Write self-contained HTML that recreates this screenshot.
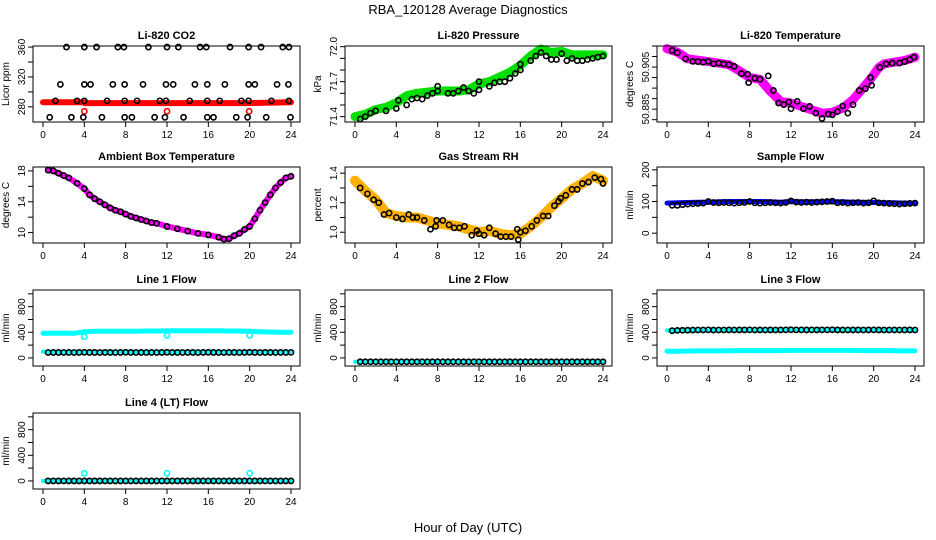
<!DOCTYPE html>
<html><head><meta charset="utf-8"><style>
html,body{margin:0;padding:0;background:#fff;}
svg{display:block;font-family:"Liberation Sans",Arial,sans-serif;}
</style></head><body>
<svg id="chart" width="936" height="540" viewBox="0 0 936 540" xmlns="http://www.w3.org/2000/svg">
<rect width="936" height="540" fill="#fff"/>
<text x="468" y="14" text-anchor="middle" font-size="13">RBA_120128  Average Diagnostics</text>
<text x="468" y="532" text-anchor="middle" font-size="13">Hour of Day (UTC)</text>
</svg>
<script>
// ---------- data ----------
const HALF = [0.5,1,1.5,2,2.5,3,3.5,4,4.5,5,5.5,6,6.5,7,7.5,8,8.5,9,9.5,10,10.5,11,11.5,12,12.5,13,13.5,14,14.5,15,15.5,16,16.5,17,17.5,18,18.5,19,19.5,20,20.5,21,21.5,22,22.5,23,23.5,24];
const HOURS = [0,1,2,3,4,5,6,7,8,9,10,11,12,13,14,15,16,17,18,19,20,21,22,23,24];
const XTICKS = [0,4,8,12,16,20,24];

// CO2
const co2Hours = [2.27,4.0,5.18,7.25,7.83,10.2,12.0,13.1,15.2,15.8,18.1,19.9,21.1,23.2,23.8,
 1.68,4.0,4.6,6.76,7.9,9.68,11.9,12.6,14.7,15.9,17.6,19.9,20.5,22.65,23.75,
 1.2,3.3,4.0,6.2,7.9,9.1,11.3,11.9,14.2,15.9,17.1,19.2,19.9,22.1,23.8,
 0.65,2.75,3.9,5.7,7.9,8.6,10.8,11.8,13.6,15.9,16.5,18.7,19.8,21.6,23.95];
const co2Values = [360,360,360,360,360,360,360,360,360,360,360,360,360,360,360,
 310,310,310,310,310,310,310,310,310,310,310,310,310,310,310,
 288,288,288,288,288,288,288,288,288,288,288,288,288,288,288,
 266,266,266,266,266,266,266,266,266,266,266,266,266,266,266];
const co2BandHours = [0,4,4.01,8,12,16,20,24];
const co2BandValues = [286,286,285,285,285,285,285,286];
const co2RedHours = [4.0,12.0,19.95];
const co2RedValues = [274,274,274];

// Pressure
const presHours = [0.5,1,1.5,2,3,4,4.2,5,5.5,6,6.5,7,7.5,8,8,9,9.5,10,10.5,11,11.5,12,12,13,13.5,14,14.5,15,15.5,16,16,17,17.5,18,18.5,19,19.5,20,20.5,21,21.5,22,22.5,23,23.5,24];
const presValues = [71.38,71.40,71.43,71.45,71.45,71.47,71.54,71.50,71.55,71.56,71.55,71.58,71.60,71.62,71.66,71.60,71.60,71.62,71.65,71.62,71.60,71.63,71.70,71.66,71.69,71.70,71.70,71.73,71.77,71.80,71.85,71.88,71.92,71.95,71.92,71.89,71.89,71.94,71.88,71.90,71.88,71.88,71.89,71.90,71.91,71.92];
const presBandHours = [0,1,2,3,4,5,6,8,10,11,12,13,14,15,16,17,18,19,20,21,22,23,24];
const presBandValues = [71.40,71.42,71.46,71.48,71.52,71.58,71.60,71.62,71.62,71.63,71.68,71.70,71.74,71.78,71.84,71.92,71.98,71.95,71.96,71.93,71.93,71.93,71.93];

// Li-820 temperature
const tempHours = [0.5,1,1.8,2.5,3,3.5,4,4.5,5,5.5,6,6.5,7.2,7.8,7.9,8.5,9,9.8,10.3,10.8,11.3,11.8,12,12.6,13.2,13.8,14.4,15,15.6,16,16.5,17,17.5,18,18.6,19.2,19.7,19.8,20.6,21.2,21.8,22.5,23,23.5,23.9];
const tempValues = [50.9129,50.9118,50.9089,50.9077,50.9076,50.9073,50.9077,50.9065,50.9069,50.9065,50.9061,50.9053,50.9019,50.9016,50.8976,50.8997,50.8992,50.9008,50.8939,50.8879,50.8871,50.8884,50.8852,50.8887,50.8852,50.8863,50.8831,50.8806,50.8826,50.8823,50.8839,50.8865,50.8831,50.8871,50.8939,50.8947,50.9000,50.8963,50.9048,50.9065,50.9069,50.9069,50.9076,50.9086,50.9097];
const tempBandHours = [0,1,2,4,6,7,8,9,10,11,12,13,14,15,16,17,18,19,19.8,20.5,21,22,23,24];
const tempBandValues = [50.9137,50.9121,50.9089,50.9076,50.9061,50.9032,50.9000,50.8992,50.8935,50.8887,50.8879,50.8863,50.8847,50.8831,50.8835,50.8855,50.8895,50.8952,50.9000,50.9048,50.9065,50.9073,50.9081,50.9097];

// Ambient box temperature
const ambHours = [0.5,1,1.5,2,2.5,3.3,4,4.5,5,5.5,6,6.5,7,7.5,8,8.5,9,9.5,10,10.5,11,12,13,14,15,16,17,17.5,18,18.5,19,19.5,20,20.5,21,21.5,22,22.5,23,23.5,24];
const ambValues = [18.1,18.0,17.7,17.4,17.1,16.4,15.7,14.9,14.4,14.0,13.6,13.2,12.9,12.7,12.4,12.1,11.9,11.7,11.5,11.3,11.2,10.8,10.5,10.2,9.9,9.7,9.4,9.15,9.2,9.6,9.9,10.4,10.8,11.8,12.9,13.9,14.9,15.8,16.5,17.1,17.3];

// Gas stream RH
const rhHours = [0.5,1.2,1.8,2.3,2.8,3.3,4,4.6,5.2,5.6,6,6.7,7.3,7.8,7.9,8.5,9.1,9.6,10.1,10.6,11.3,11.8,12,12.5,13,13.6,14.1,14.6,15.1,15.7,15.8,16,16.5,17.1,17.6,18.2,18.7,19.3,19.7,19.9,20.4,21,21.5,22,22.6,23.2,23.8,24];
const rhValues = [1.30,1.26,1.22,1.20,1.12,1.13,1.10,1.09,1.12,1.10,1.10,1.08,1.02,1.04,1.08,1.08,1.05,1.03,1.03,1.04,0.98,1.01,0.99,0.98,1.03,0.99,0.97,0.97,0.97,1.02,0.95,1.00,1.01,1.04,1.08,1.11,1.11,1.18,1.21,1.23,1.25,1.29,1.29,1.33,1.34,1.37,1.36,1.33];
const rhBandHours = [0,1,2,3,4,5,6,7,8,9,10,11,12,13,14,15,16,17,18,19,20,21,22,23,24];
const rhBandValues = [1.35,1.28,1.22,1.13,1.11,1.10,1.10,1.08,1.06,1.05,1.04,1.02,1.00,1.01,0.99,0.98,0.99,1.04,1.10,1.17,1.23,1.29,1.33,1.38,1.35];

// Sample flow
const sampleValues = [88,88,90,92,93,94,95,100,97,96,97,96,95,96,97,100,96,95,96,97,96,95,97,102,98,97,98,97,98,99,100,101,96,97,95,96,97,95,96,102,96,95,94,93,92,93,94,95];
const sampleBand = [95,96,97,98,98,99,100,100,100,100,99,98,100,99,99,99,99,99,98,98,97,96,96,95,95];

// Line 1
const line1Black = [85,86,86,85,86,85,86,88,86,86,85,86,86,85,86,88,86,85,86,85,86,85,86,88,86,86,85,86,86,85,86,88,86,86,85,86,86,85,86,88,86,85,86,86,85,86,86,87];
const line1Upper = [385,385,385,385,410,415,415,415,415,415,420,420,425,425,425,425,425,425,420,420,415,410,405,400,400];
const line1Lower = [95,95,95,95,95,95,95,95,95,95,95,95,95,95,95,95,95,95,95,95,95,95,95,95,95];
const line1CyanHours = [4,12,20];
const line1CyanValues = [330,350,350];

// Line 2
const line2Black = [-60,-60,-60,-60,-60,-60,-60,-60,-60,-60,-60,-60,-60,-60,-60,-60,-60,-60,-60,-60,-60,-60,-60,-60,-60,-60,-60,-60,-60,-60,-60,-60,-60,-60,-60,-60,-60,-60,-60,-60,-60,-60,-60,-60,-60,-60,-60,-60];
const line2Band = [-60,-60,-60,-60,-60,-60,-60,-60,-60,-60,-60,-60,-60,-60,-60,-60,-60,-60,-60,-60,-60,-60,-60,-60,-60];

// Line 3
const line3Black = [425,430,432,433,435,436,436,438,435,436,436,437,436,437,437,438,436,437,436,437,436,437,438,440,438,438,437,438,437,438,438,440,437,437,436,437,437,436,437,438,437,436,436,437,436,437,437,436];
const line3Upper = [430,430,430,432,432,432,432,432,433,435,435,435,438,438,438,438,438,438,438,436,436,436,436,435,435];
const line3Lower = [105,105,108,110,110,110,112,115,115,115,115,115,118,118,118,118,118,118,118,115,115,115,112,110,110];

// Line 4
const line4Black = [0,0,0,0,0,0,0,0,0,0,0,0,0,0,0,0,0,0,0,0,0,0,0,0,0,0,0,0,0,0,0,0,0,0,0,0,0,0,0,0,0,0,0,0,0,0,0,0];
const line4Band = [0,0,0,0,0,0,0,0,0,0,0,0,0,0,0,0,0,0,0,0,0,0,0,0,0];
const line4CyanHours = [4,12,20];
const line4CyanValues = [120,120,120];

// ---------- drawing ----------
const NS = "http://www.w3.org/2000/svg";
const svg = document.getElementById("chart");
const COLS = [33,345,657], ROWS = [46,167,290,413], W = 267, H = 76;

function mk(tag, attrs, parent){
  const e = document.createElementNS(NS, tag);
  for (const k in attrs) e.setAttribute(k, attrs[k]);
  (parent||svg).appendChild(e);
  return e;
}

function makePanel(col,row,title,ylab,ymin,ymax,ticks,labels,name){
  const L=COLS[col], T=ROWS[row];
  const g = mk("g",{});
  
  
  const xs = h => L + 10 + h*(W-19)/24;
  const ys = v => T + H - (v-ymin)/(ymax-ymin)*H;
  const t = mk("text",{x:L+W/2,y:T-7,"text-anchor":"middle","font-size":"11","font-weight":"bold"},g);
  t.textContent = title;
  
  
  const yl = mk("text",{x:0,y:0,"text-anchor":"middle","font-size":"10",transform:`translate(${L-24},${T+H/2}) rotate(-90)`},g);
  yl.textContent = ylab;
  
  
  mk("line",{x1:xs(0),x2:xs(24),y1:T+H,y2:T+H,stroke:"#000"},g);
  XTICKS.forEach(h=>{
    mk("line",{x1:xs(h),x2:xs(h),y1:T+H,y2:T+H+5,stroke:"#000"},g);
    const tx = mk("text",{x:xs(h),y:T+H+16,"text-anchor":"middle","font-size":"10"},g);
    tx.textContent = h;
    
    
  });
  ticks.forEach(v=>{
    mk("line",{x1:L-5,x2:L,y1:ys(v),y2:ys(v),stroke:"#000"},g);
  });
  labels.forEach(v=>{
    const ty = mk("text",{x:0,y:0,"text-anchor":"middle","font-size":"10",transform:`translate(${L-8},${ys(v)}) rotate(-90)`},g);
    ty.textContent = v;
    
    
  });
  const plot = mk("g",{},g);
  return {g,plot,xs,ys,L,T};
}

function band(p,hours,vals,color,width,name){
  const pts = hours.map((h,i)=>p.xs(h).toFixed(1)+","+p.ys(vals[i]).toFixed(1)).join(" ");
  const pl = mk("polyline",{points:pts,fill:"none",stroke:color,"stroke-width":width,"stroke-linejoin":"round","stroke-linecap":"round"},p.plot);
  
  
}
function circles(p,hours,vals,color,name){
  hours.forEach((h,i)=>{
    const c = mk("circle",{cx:p.xs(h),cy:p.ys(vals[i]),r:2.6,fill:"none",stroke:color,"stroke-width":1.6},p.plot);
    
    
  });
}
function frame(p){
  mk("rect",{x:p.L,y:p.T,width:W,height:H,fill:"none",stroke:"#000"},p.g);
}

let p = makePanel(0,0,"Li-820 CO2","Licor ppm",259.7,361.4,[280,300,320,340,360],[280,320,360],"co2-panel");
band(p,co2BandHours,co2BandValues,"#ff0000",6,"co2-band");
circles(p,co2RedHours,co2RedValues,"#ff0000","co2-red-point");
circles(p,co2Hours,co2Values,"#000","co2-point");
frame(p);

p = makePanel(1,0,"Li-820 Pressure","kPa",71.354,72.006,[71.4,71.5,71.6,71.7,71.8,71.9,72.0],[71.4,71.7,"72.0"],"pressure-panel");
band(p,presBandHours,presBandValues,"#00e000",9,"pressure-band");
circles(p,presHours,presValues,"#000","pressure-point");
frame(p);

p = makePanel(2,0,"Li-820 Temperature","degrees C",50.8789,50.915,[50.88,50.885,50.89,50.895,50.9,50.905,50.91,50.915],[50.885,50.905],"li820-temperature-panel");
band(p,tempBandHours,tempBandValues,"#ff00ff",9,"temperature-band");
circles(p,tempHours,tempValues,"#000","temperature-point");
frame(p);

p = makePanel(0,1,"Ambient Box Temperature","degrees C",8.65,18.51,[10,12,14,16,18],[10,14,18],"ambient-temperature-panel");
band(p,ambHours,ambValues,"#ff00ff",6,"ambient-band");
circles(p,ambHours,ambValues,"#000","ambient-point");
frame(p);

p = makePanel(1,1,"Gas Stream RH","percent",0.927,1.442,[1.0,1.1,1.2,1.3,1.4],["1.0","1.2","1.4"],"gas-rh-panel");
band(p,rhBandHours,rhBandValues,"#ffb000",10,"rh-band");
circles(p,rhHours,rhValues,"#000","rh-point");
frame(p);

p = makePanel(2,1,"Sample Flow","ml/min",-31,209,[0,50,100,150,200],[0,100,200],"sample-flow-panel");
band(p,HOURS,sampleBand,"#0000ff",5,"sample-flow-band");
circles(p,HALF,sampleValues,"#000","sample-flow-point");
frame(p);

const FT=[0,200,400,600,800,1000], FL=[0,400,800];
p = makePanel(0,2,"Line 1 Flow","ml/min",-126,1060,FT,FL,"line1-flow-panel");
band(p,HOURS,line1Upper,"#00ffff",5,"line1-upper-band");
band(p,HOURS,line1Lower,"#00ffff",4,"line1-lower-band");
circles(p,line1CyanHours,line1CyanValues,"#00ffff","line1-cyan-point");
circles(p,HALF,line1Black,"#000","line1-point");
frame(p);

p = makePanel(1,2,"Line 2 Flow","ml/min",-126,1060,FT,FL,"line2-flow-panel");
band(p,HOURS,line2Band,"#00ffff",4,"line2-band");
circles(p,HALF,line2Black,"#000","line2-point");
frame(p);

p = makePanel(2,2,"Line 3 Flow","ml/min",-126,1060,FT,FL,"line3-flow-panel");
band(p,HOURS,line3Upper,"#00ffff",4,"line3-upper-band");
band(p,HOURS,line3Lower,"#00ffff",5,"line3-lower-band");
circles(p,HALF,line3Black,"#000","line3-point");
frame(p);

p = makePanel(0,3,"Line 4 (LT) Flow","ml/min",-126,1060,FT,FL,"line4-flow-panel");
band(p,HOURS,line4Band,"#00ffff",4,"line4-band");
circles(p,line4CyanHours,line4CyanValues,"#00ffff","line4-cyan-point");
circles(p,HALF,line4Black,"#000","line4-point");
frame(p);
</script>
</body></html>
